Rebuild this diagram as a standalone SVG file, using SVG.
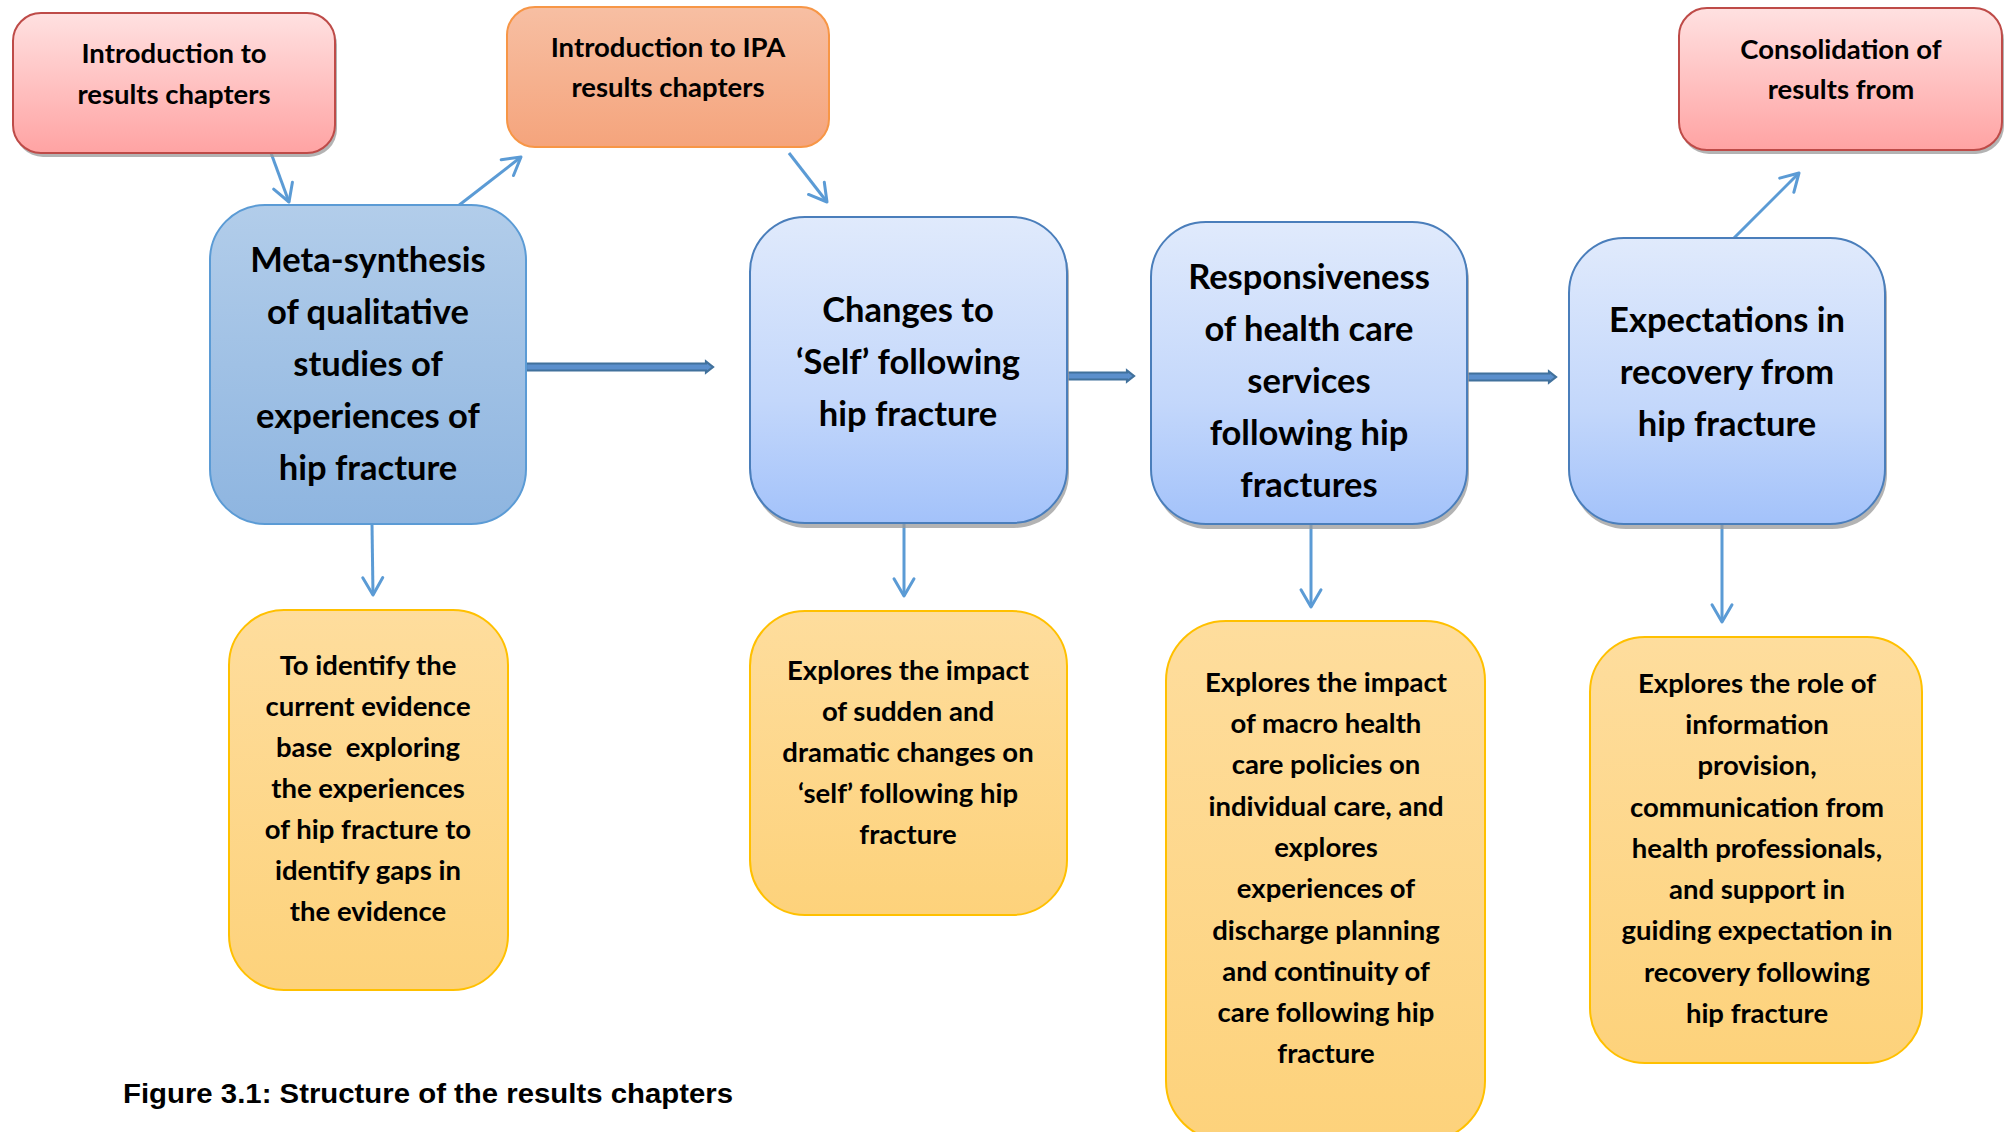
<svg xmlns="http://www.w3.org/2000/svg" width="2004" height="1132" viewBox="0 0 2004 1132">
<defs>
<linearGradient id="gPink" x1="0" y1="0" x2="0" y2="1"><stop offset="0" stop-color="#ffe1e1"/><stop offset="1" stop-color="#ffa3a3"/></linearGradient>
<linearGradient id="gOrange" x1="0" y1="0" x2="0" y2="1"><stop offset="0" stop-color="#f7bfa3"/><stop offset="1" stop-color="#f5a47c"/></linearGradient>
<linearGradient id="gMeta" x1="0" y1="0" x2="0" y2="1"><stop offset="0" stop-color="#b2cdea"/><stop offset="1" stop-color="#8eb5e0"/></linearGradient>
<linearGradient id="gBlue" x1="0" y1="0" x2="0" y2="1"><stop offset="0" stop-color="#e0eafc"/><stop offset="0.6" stop-color="#c3d7fb"/><stop offset="1" stop-color="#a3c2fa"/></linearGradient>
<linearGradient id="gYellow" x1="0" y1="0" x2="0" y2="1"><stop offset="0" stop-color="#fedd9d"/><stop offset="1" stop-color="#fdd27b"/></linearGradient>
<marker id="arr" viewBox="0 0 20 20" markerWidth="20" markerHeight="20" refX="17.3" refY="10" orient="auto" markerUnits="userSpaceOnUse" overflow="visible">
<path d="M0,0 L17.3,10 L0,20" fill="none" stroke="#5b9bd5" stroke-width="3" stroke-linecap="round" stroke-linejoin="round"/>
</marker>
</defs>
<style>
text{font-family:Lato,"Open Sans","Liberation Sans",sans-serif;font-weight:bold;fill:#000;text-anchor:middle}
.h{font-size:34.5px}
.t{font-size:27.5px}
.shadow{fill:#9a9a9a;opacity:0.75}
.conn{fill:none;stroke:#5b9bd5;stroke-width:3;marker-end:url(#arr)}
.blk{fill:#5b8fcc;stroke:#41719c;stroke-width:2.2;stroke-linejoin:miter}
.cap{font-family:"Liberation Sans",Arial,sans-serif;font-size:28px;text-anchor:start}
</style>
<rect width="2004" height="1132" fill="#fff"/>

<g id="connectors">
<line class="conn" x1="271" y1="153" x2="289" y2="202"/>
<line class="conn" x1="458" y1="206" x2="521" y2="157"/>
<line class="conn" x1="789" y1="153" x2="827" y2="202"/>
<line class="conn" x1="1734" y1="238" x2="1799" y2="173"/>
<line class="conn" x1="372" y1="524" x2="373" y2="595"/>
<line class="conn" x1="904" y1="524" x2="904" y2="596"/>
<line class="conn" x1="1311" y1="524" x2="1311" y2="607"/>
<line class="conn" x1="1722" y1="524" x2="1722" y2="622"/>
<path class="blk" d="M526,363.5 H706 V361.5 L713,367 L706,372.5 V370.5 H526 Z"/>
<path class="blk" d="M1067,372.5 H1127 V370.5 L1134,376 L1127,381.5 V379.5 H1067 Z"/>
<path class="blk" d="M1467,373.5 H1549 V371.5 L1556,377 L1549,382.5 V380.5 H1467 Z"/>
</g>

<g id="intro-results">
<rect class="shadow" x="15" y="17" width="322" height="140" rx="28"/>
<rect x="13" y="13" width="322" height="140" rx="28" fill="url(#gPink)" stroke="#be4b48" stroke-width="2"/>
<text class="t" x="174" y="63">Introduction to</text>
<text class="t" x="174" y="104">results chapters</text>
</g>

<g id="intro-ipa">
<rect x="507" y="7" width="322" height="140" rx="28" fill="url(#gOrange)" stroke="#f79646" stroke-width="2"/>
<text class="t" x="668" y="57">Introduction to IPA</text>
<text class="t" x="668" y="97">results chapters</text>
</g>

<g id="consolidation">
<rect class="shadow" x="1681" y="12" width="323" height="142" rx="28"/>
<rect x="1679" y="8" width="323" height="142" rx="28" fill="url(#gPink)" stroke="#be4b48" stroke-width="2"/>
<text class="t" x="1841" y="59">Consolidation of</text>
<text class="t" x="1841" y="99">results from</text>
</g>

<g id="meta-synthesis">
<rect x="210" y="205" width="316" height="319" rx="55" fill="url(#gMeta)" stroke="#5b9bd5" stroke-width="2"/>
<text class="h" x="368" y="272">Meta-synthesis</text>
<text class="h" x="368" y="324">of qualitative</text>
<text class="h" x="368" y="376">studies of</text>
<text class="h" x="368" y="428">experiences of</text>
<text class="h" x="368" y="480">hip fracture</text>
</g>

<g id="changes-self">
<rect class="shadow" x="752" y="221" width="317" height="307" rx="55"/>
<rect x="750" y="217" width="317" height="306" rx="55" fill="url(#gBlue)" stroke="#4a7ebb" stroke-width="2"/>
<text class="h" x="908" y="322">Changes to</text>
<text class="h" x="908" y="374">‘Self’ following</text>
<text class="h" x="908" y="426">hip fracture</text>
</g>

<g id="responsiveness">
<rect class="shadow" x="1153" y="226" width="316" height="303" rx="55"/>
<rect x="1151" y="222" width="316" height="302" rx="55" fill="url(#gBlue)" stroke="#4a7ebb" stroke-width="2"/>
<text class="h" x="1309" y="289">Responsiveness</text>
<text class="h" x="1309" y="341">of health care</text>
<text class="h" x="1309" y="393">services</text>
<text class="h" x="1309" y="445">following hip</text>
<text class="h" x="1309" y="497">fractures</text>
</g>

<g id="expectations">
<rect class="shadow" x="1571" y="242" width="316" height="287" rx="55"/>
<rect x="1569" y="238" width="316" height="286" rx="55" fill="url(#gBlue)" stroke="#4a7ebb" stroke-width="2"/>
<text class="h" x="1727" y="332">Expectations in</text>
<text class="h" x="1727" y="384">recovery from</text>
<text class="h" x="1727" y="436">hip fracture</text>
</g>

<g id="desc-meta">
<rect x="229" y="610" width="279" height="380" rx="55" fill="url(#gYellow)" stroke="#ffc000" stroke-width="2"/>
<text class="t" x="368" y="675">To identify the</text>
<text class="t" x="368" y="716">current evidence</text>
<text class="t" x="368" y="757" xml:space="preserve">base  exploring</text>
<text class="t" x="368" y="798">the experiences</text>
<text class="t" x="368" y="839">of hip fracture to</text>
<text class="t" x="368" y="880">identify gaps in</text>
<text class="t" x="368" y="921">the evidence</text>
</g>

<g id="desc-self">
<rect x="750" y="611" width="317" height="304" rx="55" fill="url(#gYellow)" stroke="#ffc000" stroke-width="2"/>
<text class="t" x="908" y="680">Explores the impact</text>
<text class="t" x="908" y="721">of sudden and</text>
<text class="t" x="908" y="762">dramatic changes on</text>
<text class="t" x="908" y="803">‘self’ following hip</text>
<text class="t" x="908" y="844">fracture</text>
</g>

<g id="desc-responsiveness">
<rect x="1166" y="621" width="319" height="520" rx="60" fill="url(#gYellow)" stroke="#ffc000" stroke-width="2"/>
<text class="t" x="1326" y="692">Explores the impact</text>
<text class="t" x="1326" y="733">of macro health</text>
<text class="t" x="1326" y="774">care policies on</text>
<text class="t" x="1326" y="816">individual care, and</text>
<text class="t" x="1326" y="857">explores</text>
<text class="t" x="1326" y="898">experiences of</text>
<text class="t" x="1326" y="940">discharge planning</text>
<text class="t" x="1326" y="981">and continuity of</text>
<text class="t" x="1326" y="1022">care following hip</text>
<text class="t" x="1326" y="1063">fracture</text>
</g>

<g id="desc-expectations">
<rect x="1590" y="637" width="332" height="426" rx="55" fill="url(#gYellow)" stroke="#ffc000" stroke-width="2"/>
<text class="t" x="1757" y="693">Explores the role of</text>
<text class="t" x="1757" y="734">information</text>
<text class="t" x="1757" y="775">provision,</text>
<text class="t" x="1757" y="817">communication from</text>
<text class="t" x="1757" y="858">health professionals,</text>
<text class="t" x="1757" y="899">and support in</text>
<text class="t" x="1757" y="940">guiding expectation in</text>
<text class="t" x="1757" y="982">recovery following</text>
<text class="t" x="1757" y="1023">hip fracture</text>
</g>

<g id="caption">
<text class="cap" x="123" y="1103" textLength="610" lengthAdjust="spacingAndGlyphs">Figure 3.1: Structure of the results chapters</text>
</g>
</svg>
